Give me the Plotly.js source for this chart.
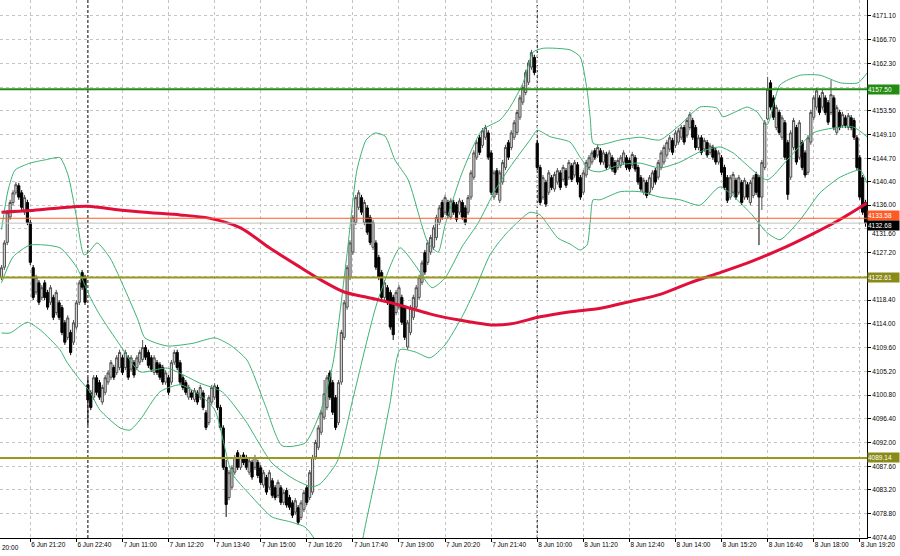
<!DOCTYPE html>
<html><head><meta charset="utf-8">
<script src="https://cdn.plot.ly/plotly-3.0.1.min.js"></script>
<style>html,body{margin:0;padding:0;background:#fff;}#chart{width:900px;height:556px;}</style>
</head><body><div id="chart"></div>
<script>
// ---- OHLC (5-minute bars, 6 Jun 20:30 .. 8 Jun 19:30) ----
const barOpen = [
4122.6,4124.5,4129.1,4133.8,4136.5,4138.4,4139.6,4138.3,4134.7,4136.5,
4132.8,4124.4,4119.9,4121.6,4118.9,4121.6,4119.8,4118.0,4118.9,4116.1,
4117.9,4117.0,4114.2,4111.5,4112.4,4110.6,4113.4,4118.0,4123.5,4122.6,
4102.7,4101.2,4100.4,4104.0,4103.1,4099.5,4101.3,4103.2,4104.1,4105.9,
4105.0,4105.9,4107.7,4105.9,4107.7,4105.6,4106.8,4105.9,4106.9,4107.4,
4109.6,4108.7,4107.7,4105.0,4106.8,4106.4,4105.9,4103.2,4104.0,4103.2,
4106.9,4108.7,4106.8,4104.0,4103.1,4100.4,4101.2,4100.0,4101.2,4100.4,
4101.2,4097.5,4095.7,4099.5,4100.4,4102.2,4098.5,4094.7,4087.4,4081.8,
4083.7,4086.5,4090.1,4087.4,4089.7,4089.2,4086.5,4088.3,4087.4,4088.3,
4087.3,4084.1,4085.5,4083.7,4084.9,4083.6,4082.2,4083.6,4080.9,4083.1,
4081.8,4080.8,4079.1,4079.9,4078.1,4079.6,4083.6,4081.8,4082.8,4089.3,
4091.1,4093.9,4096.7,4098.5,4104.9,4103.1,4100.3,4095.7,4103.2,4111.5,
4117.1,4122.6,4127.3,4132.8,4135.6,4137.4,4132.8,4135.5,4133.7,4128.2,
4129.0,4126.3,4123.5,4118.9,4120.7,4119.8,4118.9,4116.1,4117.1,4118.9,
4117.0,4109.7,4112.4,4115.2,4117.1,4118.9,4121.7,4127.2,4125.4,4127.3,
4128.2,4130.0,4132.8,4136.5,4134.7,4136.5,4133.8,4136.5,4136.1,4134.7,
4136.5,4135.5,4134.7,4137.5,4141.2,4144.9,4148.5,4147.1,4148.6,4149.4,
4145.7,4137.5,4142.4,4136.9,4140.3,4143.0,4147.6,4146.7,4148.6,4149.5,
4152.3,4155.1,4156.9,4158.8,4161.6,4163.4,4147.5,4143.0,4137.5,4140.2,
4138.4,4141.1,4139.0,4140.3,4142.0,4140.8,4142.4,4141.2,4143.3,4141.6,
4143.5,4141.1,4138.4,4141.6,4143.0,4144.0,4146.1,4145.3,4146.1,4144.0,
4145.4,4143.4,4144.8,4143.9,4143.0,4143.4,4144.0,4144.8,4144.3,4143.4,
4144.8,4143.0,4141.1,4138.4,4140.2,4138.4,4139.3,4142.4,4141.2,4143.0,
4144.0,4145.3,4146.4,4148.0,4147.1,4147.7,4148.6,4150.4,4149.0,4150.4,
4151.7,4150.4,4146.7,4148.5,4146.4,4147.6,4145.8,4146.7,4146.1,4144.0,
4144.8,4143.0,4141.1,4137.5,4138.4,4140.6,4138.4,4140.2,4137.5,4139.8,
4136.5,4137.8,4141.7,4141.1,4137.5,4143.0,4152.0,4158.7,4155.9,4150.4,
4153.2,4148.6,4151.3,4147.6,4141.2,4146.7,4150.4,4144.9,4147.6,4145.7,
4142.1,4147.7,4152.3,4154.2,4155.9,4154.2,4155.9,4155.0,4153.2,4155.9,
4149.5,4153.2,4150.8,4152.2,4150.4,4152.2,4151.7,4148.5,4144.8,4141.1,
4136.5];
const barHigh = [
4124.9,4129.5,4135.1,4137.0,4138.8,4140.3,4140.1,4138.8,4137.9,4137.0,
4133.3,4124.9,4123.1,4122.1,4121.2,4122.1,4120.3,4121.2,4119.4,4120.3,
4118.4,4117.5,4114.7,4115.6,4112.9,4114.7,4118.4,4122.1,4124.0,4123.1,
4104.0,4101.7,4104.5,4104.5,4103.6,4102.7,4104.5,4105.4,4107.3,4106.4,
4108.2,4109.2,4108.2,4109.2,4108.2,4108.2,4107.3,4108.2,4109.2,4111.0,
4110.1,4109.2,4108.2,4108.2,4107.3,4106.9,4106.4,4105.4,4104.5,4107.3,
4109.2,4109.2,4107.3,4104.5,4103.6,4102.7,4101.7,4102.1,4101.7,4102.7,
4101.7,4098.0,4100.8,4102.7,4103.0,4102.7,4099.0,4095.2,4088.8,4086.9,
4087.8,4089.7,4090.6,4089.7,4090.2,4089.7,4089.1,4088.8,4089.7,4088.8,
4087.8,4086.9,4086.0,4086.9,4085.4,4084.1,4085.1,4084.1,4083.2,4083.6,
4082.3,4081.3,4081.7,4080.4,4081.3,4083.2,4084.1,4086.9,4089.7,4092.5,
4095.2,4098.0,4103.6,4104.5,4105.4,4103.6,4100.8,4103.6,4112.9,4118.4,
4124.9,4129.5,4134.2,4137.9,4138.8,4137.9,4137.0,4136.0,4134.2,4133.3,
4129.5,4126.8,4124.0,4122.1,4121.2,4120.3,4119.4,4120.3,4121.2,4119.4,
4117.5,4114.7,4117.5,4119.4,4121.2,4123.1,4125.8,4127.7,4129.5,4130.5,
4132.3,4134.2,4136.0,4137.0,4137.9,4137.0,4137.3,4137.0,4136.6,4137.3,
4137.0,4136.0,4137.9,4142.5,4146.2,4148.1,4149.0,4150.3,4150.9,4149.9,
4146.2,4142.5,4142.9,4142.5,4144.4,4147.2,4148.1,4149.9,4151.8,4153.7,
4156.4,4158.3,4161.1,4162.9,4164.8,4163.9,4148.1,4143.5,4141.6,4140.7,
4142.5,4141.6,4142.2,4142.9,4142.5,4143.5,4142.9,4144.4,4143.8,4144.4,
4144.0,4141.6,4142.5,4144.4,4145.3,4146.2,4146.6,4147.2,4146.6,4146.2,
4145.9,4146.2,4145.3,4144.4,4144.8,4145.3,4146.2,4145.3,4144.8,4145.9,
4145.3,4143.5,4141.6,4141.1,4140.7,4141.6,4142.5,4142.9,4144.4,4146.2,
4147.2,4148.1,4149.0,4148.5,4149.9,4150.3,4150.9,4150.9,4152.2,4153.3,
4152.2,4150.9,4149.0,4149.0,4148.5,4148.1,4147.5,4147.2,4146.6,4146.2,
4145.3,4143.5,4141.6,4141.6,4142.2,4141.1,4141.6,4140.7,4141.1,4140.3,
4140.7,4141.6,4142.2,4141.6,4144.4,4151.8,4159.8,4159.2,4156.4,4154.6,
4153.7,4152.7,4151.8,4148.1,4149.9,4152.2,4150.9,4151.8,4148.1,4146.2,
4149.0,4153.7,4156.4,4157.7,4156.4,4157.4,4156.4,4155.5,4159.2,4156.4,
4154.6,4153.7,4153.3,4152.7,4153.1,4152.7,4152.2,4149.0,4145.3,4141.6,
4137.0];
const barLow = [
4122.1,4124.0,4128.6,4133.3,4136.0,4137.9,4137.0,4135.1,4134.2,4132.3,
4124.9,4118.4,4119.4,4117.5,4118.4,4118.4,4116.6,4117.5,4114.7,4115.6,
4114.7,4111.9,4110.1,4111.0,4108.2,4110.1,4112.9,4117.5,4120.3,4117.5,
4095.2,4098.0,4099.9,4100.8,4099.9,4099.0,4100.8,4102.7,4103.6,4103.6,
4104.5,4105.4,4104.5,4105.4,4103.6,4105.1,4104.0,4105.4,4106.4,4106.9,
4107.3,4105.8,4105.1,4104.5,4104.5,4103.6,4102.7,4102.7,4100.8,4102.7,
4106.4,4105.4,4102.7,4101.7,4100.8,4099.9,4099.9,4099.5,4099.0,4099.9,
4098.0,4094.3,4095.2,4099.0,4099.9,4098.0,4094.3,4086.9,4078.2,4081.3,
4083.2,4086.0,4086.9,4086.9,4087.8,4086.9,4086.0,4085.1,4086.9,4085.4,
4084.1,4083.6,4082.3,4083.2,4081.7,4081.3,4081.7,4080.4,4080.4,4079.9,
4079.5,4078.0,4078.6,4076.7,4077.6,4079.1,4080.4,4081.3,4082.3,4088.8,
4090.6,4093.4,4096.2,4098.0,4099.9,4097.1,4094.3,4095.2,4102.7,4111.0,
4116.6,4122.1,4126.8,4132.3,4135.1,4134.2,4132.3,4130.5,4128.6,4127.7,
4124.0,4122.1,4118.4,4118.4,4117.5,4112.9,4111.0,4115.6,4116.6,4113.8,
4111.0,4109.2,4111.9,4114.7,4116.6,4118.4,4121.2,4123.1,4124.9,4126.8,
4127.7,4129.5,4132.3,4133.3,4134.2,4133.6,4133.3,4134.2,4132.9,4134.2,
4133.3,4132.3,4134.2,4137.0,4140.7,4144.4,4145.3,4146.6,4148.1,4144.4,
4137.9,4137.0,4137.9,4136.4,4139.8,4142.5,4144.4,4146.2,4148.1,4149.0,
4151.8,4154.6,4156.4,4158.3,4161.1,4160.1,4142.5,4136.0,4137.0,4135.7,
4137.9,4138.8,4138.5,4139.8,4138.8,4140.3,4139.2,4140.7,4140.3,4141.1,
4139.8,4137.0,4137.9,4141.1,4142.5,4143.5,4144.4,4144.8,4143.5,4143.5,
4142.5,4142.9,4142.2,4141.6,4142.5,4142.9,4143.5,4142.5,4142.2,4142.9,
4142.2,4139.8,4138.5,4137.9,4137.3,4137.9,4138.8,4139.8,4140.7,4142.5,
4143.5,4144.8,4145.9,4145.3,4146.6,4147.2,4148.1,4147.2,4148.5,4149.9,
4148.1,4146.2,4146.2,4145.3,4145.9,4144.8,4145.3,4144.4,4143.5,4143.5,
4141.6,4138.8,4136.4,4137.0,4137.9,4137.0,4137.9,4136.0,4137.0,4137.0,
4136.0,4137.3,4137.9,4128.6,4135.1,4142.5,4151.8,4153.7,4151.8,4149.9,
4149.0,4148.1,4144.4,4137.0,4140.7,4146.2,4143.5,4144.4,4142.5,4141.1,
4141.6,4147.2,4151.8,4153.7,4152.7,4153.7,4152.7,4150.9,4152.7,4149.9,
4149.0,4149.9,4150.3,4150.3,4149.9,4149.9,4148.1,4142.5,4137.0,4134.2,
4132.0];
const barClose = [
4124.4,4129.0,4134.6,4136.5,4138.3,4139.8,4137.5,4135.6,4137.4,4132.8,
4125.4,4118.9,4122.6,4118.0,4120.7,4118.9,4117.1,4120.7,4115.2,4119.8,
4115.2,4112.4,4110.6,4115.1,4108.7,4114.2,4117.9,4121.6,4120.8,4118.0,
4099.9,4098.5,4104.0,4101.3,4100.4,4102.2,4104.0,4104.9,4106.8,4104.1,
4107.7,4108.7,4105.0,4108.7,4104.1,4107.7,4104.5,4107.7,4108.7,4109.6,
4107.8,4106.3,4105.6,4107.7,4105.0,4104.1,4103.2,4104.9,4101.3,4106.8,
4108.7,4105.9,4103.2,4102.2,4101.3,4102.2,4100.4,4101.6,4099.5,4102.2,
4098.5,4094.8,4100.3,4102.2,4102.5,4098.5,4094.8,4087.4,4080.5,4086.4,
4087.3,4089.2,4087.4,4089.2,4088.3,4087.4,4088.6,4085.6,4089.2,4085.9,
4084.6,4086.4,4082.8,4086.4,4082.2,4081.8,4084.6,4080.9,4082.7,4080.4,
4080.0,4078.5,4081.2,4077.2,4080.8,4082.7,4080.9,4086.4,4089.2,4092.0,
4094.7,4097.5,4101.0,4104.0,4100.4,4097.6,4094.8,4103.1,4112.4,4117.9,
4124.4,4129.0,4133.7,4137.4,4138.3,4134.7,4136.5,4131.0,4129.1,4132.8,
4124.5,4122.6,4118.9,4121.6,4118.0,4113.4,4112.0,4119.8,4120.7,4114.3,
4111.5,4114.2,4117.0,4118.9,4120.7,4122.6,4125.3,4123.6,4129.0,4130.0,
4131.8,4133.7,4135.5,4133.8,4137.4,4134.1,4136.8,4134.7,4133.4,4136.8,
4133.8,4132.8,4137.4,4142.0,4145.7,4147.6,4145.8,4149.8,4150.4,4144.9,
4138.4,4142.0,4138.4,4142.0,4143.9,4146.7,4144.9,4149.4,4151.3,4153.2,
4155.9,4157.8,4160.6,4162.4,4164.3,4160.6,4143.0,4136.5,4141.1,4136.2,
4142.0,4139.3,4141.7,4142.4,4139.3,4143.0,4139.7,4143.9,4140.8,4143.9,
4140.3,4137.5,4142.0,4143.9,4144.8,4145.7,4144.9,4146.7,4144.0,4145.7,
4143.0,4145.7,4142.7,4142.1,4144.3,4144.8,4145.7,4143.0,4142.7,4145.4,
4142.7,4140.3,4139.0,4140.6,4137.8,4141.1,4142.0,4140.3,4143.9,4145.7,
4146.7,4147.6,4148.5,4145.8,4149.4,4149.8,4150.4,4147.7,4151.7,4152.8,
4148.6,4146.7,4148.5,4145.8,4148.0,4145.3,4147.0,4144.9,4144.0,4145.7,
4142.1,4139.3,4136.9,4141.1,4141.7,4137.5,4141.1,4136.5,4140.6,4137.5,
4140.2,4141.1,4138.4,4137.5,4143.9,4151.3,4157.5,4154.2,4152.3,4154.1,
4149.5,4152.2,4144.9,4138.0,4149.4,4151.7,4144.0,4151.3,4143.0,4141.6,
4148.5,4153.2,4155.9,4157.2,4153.2,4156.9,4153.2,4151.4,4156.5,4150.4,
4154.1,4150.4,4152.8,4150.8,4152.6,4150.4,4148.6,4143.0,4137.5,4134.7,
4132.68];

// ---- Bollinger bands (read at sample bars) ----
const bbUpperX = [0,2.3,4.7,9.9,15.1,20.3,23.1,25.9,28.6,30,33.2,37.7,42.9,47.4,49.8,57.5,66.5,74.1,79.3,85.2,91.5,97.4,105.4,110.6,115.1,120,123.4,126.6,129.7,133.2,136.6,141.2,148.1,151.6,154,159.9,166.8,173.1,176.6,181.1,184.6,188.1,197.4,200.9,203.3,204.4,205.4,207.8,214.8,221.7,228.6,235.6,242.5,248.4,250.5,254,258.9,262.3,265.8,270.3,277.3,284.2,291.2,297.4,300.5];
const bbUpper = [4131.5,4138.8,4142.5,4143.8,4144.4,4144.8,4141.6,4134.2,4126.8,4127.1,4129.0,4126.2,4120.3,4114.7,4111.4,4109.9,4110.4,4111.4,4110.1,4107.3,4099.0,4091.4,4091.9,4097.5,4106.7,4127.1,4142.5,4148.1,4149.4,4148.8,4144.4,4140.7,4129.0,4127.3,4132.3,4142.0,4149.9,4151.8,4154.2,4158.7,4164.4,4165.1,4164.8,4163.5,4157.4,4152.2,4147.5,4147.2,4148.1,4148.6,4148.1,4150.9,4154.2,4154.0,4152.4,4153.1,4154.2,4153.3,4150.9,4158.3,4160.1,4160.1,4158.7,4158.7,4160.5];
const bbMiddleX = [0,4,9.9,20.3,26.2,30.7,34.2,41.1,48.1,57.5,68.9,76.6,84.5,93.9,101.9,107.8,110.6,116.5,122.1,130.4,138.4,143.6,149.5,154,159.9,165.5,171.4,176.6,183.5,186,190.5,197.4,200.9,204.4,207.8,214.8,221.7,228.6,235.6,242.5,249.5,254,265.8,272.8,281.8,288.7,295.7,300.5];
const bbMiddle = [4121.6,4126.4,4128.6,4128.1,4124.4,4119.0,4115.6,4110.1,4105.1,4105.8,4103.0,4101.4,4096.2,4088.2,4085.1,4083.8,4084.3,4088.4,4100.3,4117.9,4128.1,4124.9,4120.7,4122.5,4128.3,4132.7,4138.8,4143.1,4148.1,4149.9,4148.7,4147.7,4144.9,4142.5,4142.2,4143.5,4143.8,4142.9,4144.0,4145.9,4146.8,4145.7,4140.7,4144.4,4149.4,4150.3,4150.5,4148.7];
const bbLowerX = [0,3,8.9,13.4,20.3,22.7,27.3,30.7,34.2,41.2,44.6,48.1,55,62,68.9,74.1,80,86.3,93.9,100.2,105.4,108.9,112.3,115.8,120.3,123.8,125.5,130.4,134.9,138.4,143.6,148.8,154,159.9,164.4,169.6,174.8,180.1,183.5,187,189.8,193.2,197.4,200.9,203.3,204.4,205.4,207.8,214.8,221.7,228.6,235.6,242.5,249.5,259.9,265.8,270.3,277.3,284.2,291.2,298.1,300.5];
const bbLower = [4112.3,4112.3,4114.3,4112.9,4109.2,4106.9,4103.6,4101.4,4098.0,4094.7,4094.3,4096.2,4101.4,4102.7,4100.8,4098.0,4086.3,4082.3,4078.2,4077.3,4076.3,4073.9,4068.4,4064.7,4059.1,4067.4,4074.3,4086.9,4099.3,4109.2,4108.8,4107.7,4110.1,4115.3,4120.3,4126.8,4130.5,4133.3,4134.7,4134.2,4132.3,4129.9,4128.8,4127.7,4128.6,4132.9,4137.0,4137.0,4138.5,4138.5,4137.5,4137.0,4136.0,4139.4,4134.6,4130.9,4129.6,4133.3,4138.3,4141.2,4142.5,4140.1];

// ---- Moving average (read at sample bars) ----
const maX = [0,10,20,30,41,52,62,72,83,93,104,111,119,128,138,149,159,170,177,187,197,208,218,229,239,250,260,270,281,291,300.5];
const maY = [4134.7,4135.0,4135.5,4135.8,4135.1,4134.6,4134.2,4133.6,4131.8,4128.1,4124.4,4122.1,4119.9,4118.8,4117.5,4115.8,4114.7,4113.8,4114.0,4115.3,4116.2,4116.9,4118.1,4119.5,4121.6,4123.6,4125.5,4127.7,4130.5,4133.3,4136.4];

// ---- Levels / axis ticks ----
const resistanceLevel = 4157.50;
const supportLevels = [4122.61, 4089.14];
const askPrice = 4133.58;
const bidPrice = 4132.68;
const daySeparatorBars = [30, 186];
const xTickBars = [10,26,42,58,74,90,106,122,138,154,170,186,202,218,234,250,266,282,298];
const xTickLabels = ['6 Jun 21:20','6 Jun 22:40','7 Jun 11:00','7 Jun 12:20','7 Jun 13:40','7 Jun 15:00','7 Jun 16:20','7 Jun 17:40','7 Jun 19:00','7 Jun 20:20','7 Jun 21:40','8 Jun 10:00','8 Jun 11:20','8 Jun 12:40','8 Jun 14:00','8 Jun 15:20','8 Jun 16:40','8 Jun 18:00','8 Jun 19:20'];
const yTickVals = [4074.4,4078.8,4083.2,4087.6,4092.0,4096.4,4100.8,4105.2,4109.6,4114.0,4118.4,4122.8,4127.2,4131.6,4136.0,4140.4,4144.7,4149.1,4153.5,4157.9,4162.3,4166.7,4171.1];
const yTickText = ['4074.40','4078.80','4083.20','4087.60','4092.00','4096.40','4100.80','4105.20','4109.60','4114.00','4118.40','','4127.20','','4136.00','4140.40','4144.70','4149.10','4153.50','','4162.30','4166.70','4171.10'];
const movedTickValue = 4131.6;   // label nudged below the bid box

const barIndex = barClose.map((_, i) => i);
const FONT = 'Liberation Sans, Arial, sans-serif';
const bandColor = '#3cb371';
const GREEN = '#238c12', OLIVE = '#999922', OLIVE_BOX = '#8a8a1a', ASK = '#ff5a26';

const traces = [
  {type:'candlestick', x:barIndex, open:barOpen, high:barHigh, low:barLow, close:barClose,
   increasing:{line:{color:'#505050', width:1}, fillcolor:'#d8d8d8'},
   decreasing:{line:{color:'#000000', width:1}, fillcolor:'#000000'},
   whiskerwidth:0, hoverinfo:'skip', showlegend:false},
  {type:'scatter', mode:'lines', x:bbUpperX, y:bbUpper, line:{color:bandColor, width:1, shape:'spline', smoothing:0.6}, hoverinfo:'skip'},
  {type:'scatter', mode:'lines', x:bbMiddleX, y:bbMiddle, line:{color:bandColor, width:1, shape:'spline', smoothing:0.6}, hoverinfo:'skip'},
  {type:'scatter', mode:'lines', x:bbLowerX, y:bbLower, line:{color:bandColor, width:1, shape:'spline', smoothing:0.6}, hoverinfo:'skip'},
  {type:'scatter', mode:'lines', x:maX, y:maY, line:{color:'#e0103a', width:3, shape:'spline', smoothing:0.8}, hoverinfo:'skip'}
];

const shapes = [];
daySeparatorBars.forEach(b => shapes.push({type:'line', xref:'x', yref:'paper', x0:b, x1:b, y0:0, y1:1, layer:'below', line:{color:'#000', width:1, dash:'3px,2px'}}));
shapes.push({type:'line', xref:'paper', x0:0, x1:1, yref:'y', y0:bidPrice, y1:bidPrice, line:{color:'#c0c0c0', width:1}});
shapes.push({type:'line', xref:'paper', x0:0, x1:1, yref:'y', y0:askPrice, y1:askPrice, line:{color:ASK, width:1}});
shapes.push({type:'line', xref:'paper', x0:0, x1:1, yref:'y', y0:resistanceLevel, y1:resistanceLevel, line:{color:GREEN, width:2}});
supportLevels.forEach(v => shapes.push({type:'line', xref:'paper', x0:0, x1:1, yref:'y', y0:v, y1:v, line:{color:OLIVE, width:2}}));

function boxLabel(v, bg, shift){
  return {xref:'paper', x:1, xanchor:'left', yref:'y', y:v, yanchor:'middle', text:v.toFixed(2), showarrow:false,
    font:{family:FONT, size:6.5, color:'#ffffff'}, bgcolor:bg, width:31, height:9, align:'left', borderpad:0,
    xshift:0, yshift:shift || 0};
}
const annotations = [
  boxLabel(resistanceLevel, GREEN),
  boxLabel(supportLevels[0], OLIVE_BOX),
  boxLabel(supportLevels[1], OLIVE_BOX),
  boxLabel(askPrice, ASK, 2.5),
  boxLabel(bidPrice, '#000000', -2),
  {xref:'paper', x:1, xanchor:'left', yref:'y', y:movedTickValue, yanchor:'middle', yshift:-5, xshift:3,
   text:movedTickValue.toFixed(2), showarrow:false, font:{family:FONT, size:6.5, color:'#000'}},
  {xref:'paper', x:0, xanchor:'left', yref:'paper', y:0, yanchor:'top', yshift:-4, text:'20:00', showarrow:false,
   font:{family:FONT, size:6.5, color:'#000'}}
];

const layout = {
  width:900, height:556, margin:{l:0, r:33, t:0, b:18},
  paper_bgcolor:'#ffffff', plot_bgcolor:'#ffffff', showlegend:false,
  font:{family:FONT, size:6.5, color:'#000'},
  boxgap:0.25, boxgroupgap:0,
  xaxis:{type:'linear', range:[-0.52, 300.5], rangeslider:{visible:false},
    tickmode:'array', tickvals:xTickBars, ticktext:xTickLabels, ticks:'outside', ticklen:3, tickcolor:'#000',
    ticklabelposition:'outside right', tickfont:{family:FONT, size:6.5, color:'#000'},
    showgrid:true, gridcolor:'#c4c4c4', griddash:'3px,3px', gridwidth:1,
    showline:true, linecolor:'#000', linewidth:1, zeroline:false, fixedrange:true},
  yaxis:{side:'right', range:[4074.29, 4174.05], tickmode:'array', tickvals:yTickVals, ticktext:yTickText,
    ticks:'outside', ticklen:3, tickcolor:'#000', tickfont:{family:FONT, size:6.5, color:'#000'},
    showgrid:true, gridcolor:'#c4c4c4', griddash:'3px,3px', gridwidth:1,
    showline:true, linecolor:'#000', linewidth:1, zeroline:false, fixedrange:true},
  shapes:shapes, annotations:annotations
};

Plotly.newPlot('chart', traces, layout, {staticPlot:true, displayModeBar:false});
</script>
</body></html>
